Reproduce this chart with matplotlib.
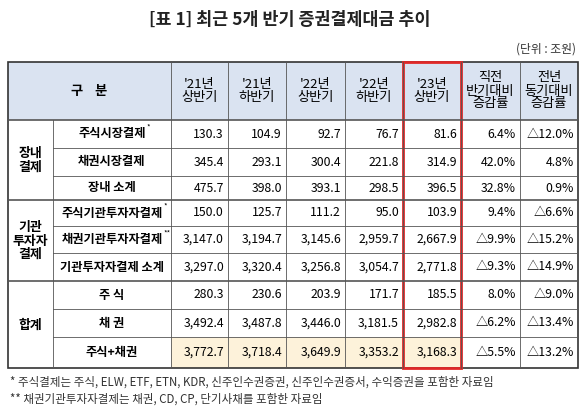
import matplotlib.pyplot as plt
import matplotlib.patches as patches

plt.rcParams['font.family'] = ['Noto Sans CJK KR', 'DejaVu Sans']

# Table data (unit: 조원)
periods = ["'21년\n상반기", "'21년\n하반기", "'22년\n상반기", "'22년\n하반기", "'23년\n상반기"]
change_headers = ["직전\n반기대비\n증감률", "전년\n동기대비\n증감률"]
groups = [("장내\n결제", 0, 3), ("기관\n투자자\n결제", 3, 6), ("합계", 6, 9)]
row_labels = ["주식시장결제", "채권시장결제", "장내 소계",
              "주식기관투자자결제", "채권기관투자자결제", "기관투자자결제 소계",
              "주 식", "채 권", "주식+채권"]
label_marks = ["*", "", "", "*", "**", "", "", "", ""]
values = [
    ["130.3", "104.9", "92.7", "76.7", "81.6", "6.4%", "△12.0%"],
    ["345.4", "293.1", "300.4", "221.8", "314.9", "42.0%", "4.8%"],
    ["475.7", "398.0", "393.1", "298.5", "396.5", "32.8%", "0.9%"],
    ["150.0", "125.7", "111.2", "95.0", "103.9", "9.4%", "△6.6%"],
    ["3,147.0", "3,194.7", "3,145.6", "2,959.7", "2,667.9", "△9.9%", "△15.2%"],
    ["3,297.0", "3,320.4", "3,256.8", "3,054.7", "2,771.8", "△9.3%", "△14.9%"],
    ["280.3", "230.6", "203.9", "171.7", "185.5", "8.0%", "△9.0%"],
    ["3,492.4", "3,487.8", "3,446.0", "3,181.5", "2,982.8", "△6.2%", "△13.4%"],
    ["3,772.7", "3,718.4", "3,649.9", "3,353.2", "3,168.3", "△5.5%", "△13.2%"],
]
notes = ["* 주식결제는 주식, ELW, ETF, ETN, KDR, 신주인수권증권, 신주인수권증서, 수익증권을 포함한 자료임",
         "** 채권기관투자자결제는 채권, CD, CP, 단기사채를 포함한 자료임"]

# layout in pixel coordinates
col_x = [8, 53, 171, 228, 286, 345, 403, 461, 520, 578]
row_y = [62, 120, 148, 176, 200, 226, 253, 281, 309, 337, 368]
HEADER_BG = '#dae3f1'
TOTAL_BG = '#fdf2da'
LINE = '#555555'
FS = 8.8

fig = plt.figure(figsize=(5.8, 4.13), dpi=100)
ax = fig.add_axes([0, 0, 1, 1])
ax.set_xlim(0, 580)
ax.set_ylim(413, 0)
ax.axis('off')

ax.text(290, 20, "[표 1] 최근 5개 반기 증권결제대금 추이", ha='center', va='center',
        fontsize=12.5, fontweight='bold', color='#222222')
ax.text(576, 49, "(단위 : 조원)", ha='right', va='center', fontsize=8.5, color='#333333')

# header background
ax.add_patch(patches.Rectangle((col_x[0], row_y[0]), col_x[-1] - col_x[0], row_y[1] - row_y[0],
                               facecolor=HEADER_BG, edgecolor='none'))
# total row highlight
ax.add_patch(patches.Rectangle((col_x[2], row_y[9]), col_x[7] - col_x[2], row_y[10] - row_y[9],
                               facecolor=TOTAL_BG, edgecolor='none'))

# header texts
ax.text((col_x[0] + col_x[2]) / 2, (row_y[0] + row_y[1]) / 2, "구    분",
        ha='center', va='center', fontsize=FS + 0.7, fontweight='bold')
for j, p in enumerate(periods + change_headers):
    ax.text((col_x[j + 2] + col_x[j + 3]) / 2, (row_y[0] + row_y[1]) / 2, p,
            ha='center', va='center', fontsize=FS + 0.7, linespacing=1.0)

# groups and row labels
for name, r0, r1 in groups:
    ax.text((col_x[0] + col_x[1]) / 2, (row_y[r0 + 1] + row_y[r1 + 1]) / 2, name,
            ha='center', va='center', fontsize=FS + 0.5, fontweight='bold', linespacing=0.95)
for i, lab in enumerate(row_labels):
    yc = (row_y[i + 1] + row_y[i + 2]) / 2
    t = ax.text((col_x[1] + col_x[2]) / 2, yc, lab, ha='center', va='center',
                fontsize=FS, fontweight='bold')
    if label_marks[i]:
        fig.canvas.draw()
        bb = t.get_window_extent().transformed(ax.transData.inverted())
        ax.text(bb.x1 + 0.5, yc - 6, label_marks[i], ha='left', va='center', fontsize=5.5)
    for j, v in enumerate(values[i]):
        ax.text(col_x[j + 3] - 4, yc, v, ha='right', va='center', fontsize=FS)

# grid lines
for k, y in enumerate(row_y[1:-1], start=1):
    x0 = col_x[0] if k in (1, 4, 7) else col_x[1]
    lw = 1.2 if k in (1, 4, 7) else 0.6
    ax.plot([x0, col_x[-1]], [y, y], color=LINE, lw=lw)
for x in col_x[1:-1]:
    y0 = row_y[1] if x == col_x[1] else row_y[0]
    ax.plot([x, x], [y0, row_y[-1]], color=LINE, lw=0.6)
ax.add_patch(patches.Rectangle((col_x[0], row_y[0]), col_x[-1] - col_x[0], row_y[-1] - row_y[0],
                               facecolor='none', edgecolor='#333333', lw=1.2))

# red highlight on latest period
ax.add_patch(patches.Rectangle((col_x[6], row_y[0]), col_x[7] - col_x[6], row_y[-1] - row_y[0],
                               facecolor='none', edgecolor='#e02828', lw=2))

for k, note in enumerate(notes):
    ax.text(10, 382 + k * 17, note, ha='left', va='center', fontsize=8.3, color='#333333')

fig.savefig('out.png', dpi=100)
